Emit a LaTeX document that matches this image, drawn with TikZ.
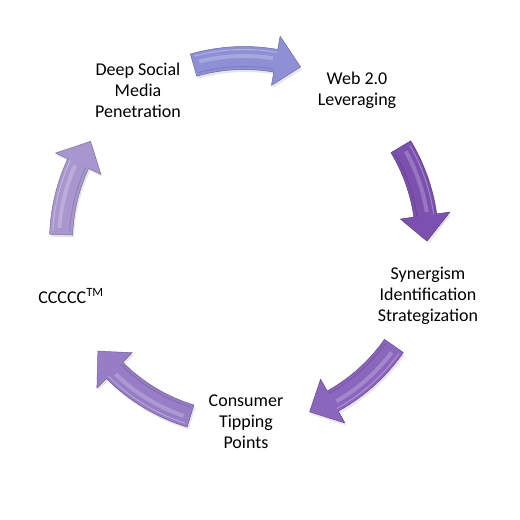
\documentclass[tikz,border=0pt]{standalone}
\usepackage{fontspec}
\setmainfont{Carlito}
\definecolor{cA}{HTML}{8F8FD6}
\definecolor{cB}{HTML}{7B50AF}
\definecolor{cC}{HTML}{8A66BD}
\definecolor{cD}{HTML}{977DC6}
\definecolor{cE}{HTML}{A896CE}
\newcommand\cycarrow[3]{%
  \pgfmathsetmacro\aS{#1}\pgfmathsetmacro\aT{#2}\pgfmathsetmacro\aH{#2+8}%
  \fill[black!25,opacity=0.4,shift={(O)},xshift=1.5pt,yshift=-2.5pt]
    (\aS:194.5) arc[start angle=\aS,end angle=\aH,radius=194.5] -- (\aH:208) -- (\aT:183)
    -- (\aH:158) -- (\aH:171.5) arc[start angle=\aH,end angle=\aS,radius=171.5] -- cycle;
  \filldraw[fill=#3,draw=#3!75!black,line width=0.5pt,line join=round,shift={(O)}]
    (\aS:194.5) arc[start angle=\aS,end angle=\aH,radius=194.5] -- (\aH:208) -- (\aT:183)
    -- (\aH:158) -- (\aH:171.5) arc[start angle=\aH,end angle=\aS,radius=171.5] -- cycle;
  \draw[white,opacity=0.22,line width=4pt,shift={(O)}]
    (\aS-2:185) arc[start angle=\aS-2,end angle=\aH+1,radius=185];
  \draw[white,opacity=0.3,line width=1pt,shift={(O)}]
    (\aS-1:191.5) arc[start angle=\aS-1,end angle=\aH,radius=191.5];
  \draw[#3!60!black,opacity=0.3,line width=1pt,shift={(O)}]
    (\aS-1:174.5) arc[start angle=\aS-1,end angle=\aH,radius=174.5];
}
\begin{document}
\begin{tikzpicture}[x=1pt,y=1pt,
  lbl/.style={align=center,font=\fontsize{18}{21}\selectfont,inner sep=0pt}]
\useasboundingbox (0,0) rectangle (520,520);
\fill[white] (0,0) rectangle (520,520);
\coordinate (O) at (244,279);
\cycarrow{106}{72}{cA}
\cycarrow{31}{0}{cB}
\cycarrow{-35}{-69}{cC}
\cycarrow{-107}{-143}{cD}
\cycarrow{178}{147}{cE}
\node[lbl] (dsm) at (138,430) {Deep Social\\Media\\Penetration};
\node[lbl] (web) at (357,430) {Web 2.0\\Leveraging};
\node[lbl] (syn) at (428,224) {Synergism\\Identification\\Strategization};
\node[lbl] (ctp) at (246,98) {Consumer\\Tipping\\Points};
\node[lbl] (ccc) at (71,224) {CCCCC\textsuperscript{TM}};
\end{tikzpicture}
\end{document}
